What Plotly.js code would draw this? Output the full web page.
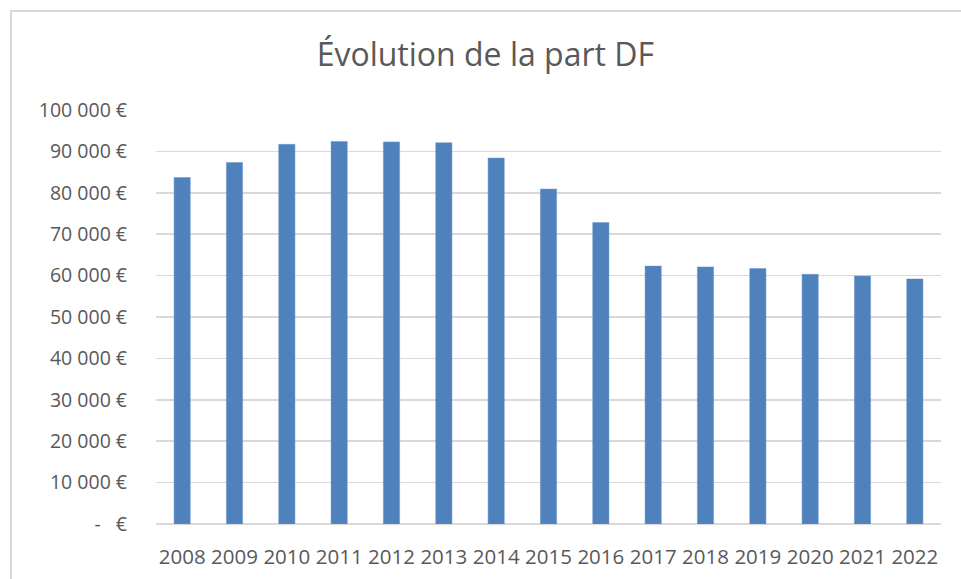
<!DOCTYPE html>
<html>
<head>
<meta charset="utf-8">
<script src="https://cdn.plot.ly/plotly-3.0.1.min.js"></script>
<style>
html,body{margin:0;padding:0;background:#fff;overflow:hidden;}
#frame{position:absolute;left:10px;top:10px;width:960px;height:580px;border-left:2px solid #d9d9d9;border-top:2px solid #d9d9d9;box-sizing:border-box;}
#chart{position:absolute;left:0;top:0;width:961px;height:579px;}
</style>
</head>
<body>
<div id="frame"></div>
<div id="chart"></div>
<script>
const years = ["2008","2009","2010","2011","2012","2013","2014","2015","2016","2017","2018","2019","2020","2021","2022"];
const values = [83700, 87300, 91700, 92400, 92300, 92100, 88400, 80900, 72800, 62300, 62100, 61700, 60300, 59900, 59200];
const yTickVals = [0,10000,20000,30000,40000,50000,60000,70000,80000,90000,100000];
const yTickText = ["-   €","10 000 €","20 000 €","30 000 €","40 000 €","50 000 €","60 000 €","70 000 €","80 000 €","90 000 €","100 000 €"];

const font = "Open Sans, Noto Sans, sans-serif";
Plotly.newPlot('chart', [{
  type: 'bar',
  x: years,
  y: values,
  marker: {color: '#4f81bd', line: {color: '#6b96cc', width: 0.5}},
  hoverinfo: 'x+y'
}], {
  width: 961, height: 579,
  paper_bgcolor: 'rgba(0,0,0,0)',
  plot_bgcolor: 'rgba(0,0,0,0)',
  margin: {l: 156, r: 20, t: 110, b: 55},
  bargap: 0.69,
  title: {text: 'Évolution de la part DF', font: {family: font, size: 32, color: '#595959'}, x: 0.505, xanchor: 'center', y: 0.905, yanchor: 'middle'},
  xaxis: {
    type: 'category',
    tickfont: {family: font, size: 20.5, color: '#595959'},
    showgrid: false, showline: false, ticks: '', ticklen: 0,
    ticklabelstandoff: 18
  },
  yaxis: {
    range: [0, 100000],
    tickvals: yTickVals, ticktext: yTickText,
    tickfont: {family: font, size: 19.5, color: '#595959'},
    gridcolor: '#d9d9d9', gridwidth: 1.5,
    zeroline: true, zerolinecolor: '#d9d9d9', zerolinewidth: 1.5,
    showline: false, ticks: '', ticklabelstandoff: 28
  },
  showlegend: false
}, {displayModeBar: false, staticPlot: true});
</script>
</body>
</html>
